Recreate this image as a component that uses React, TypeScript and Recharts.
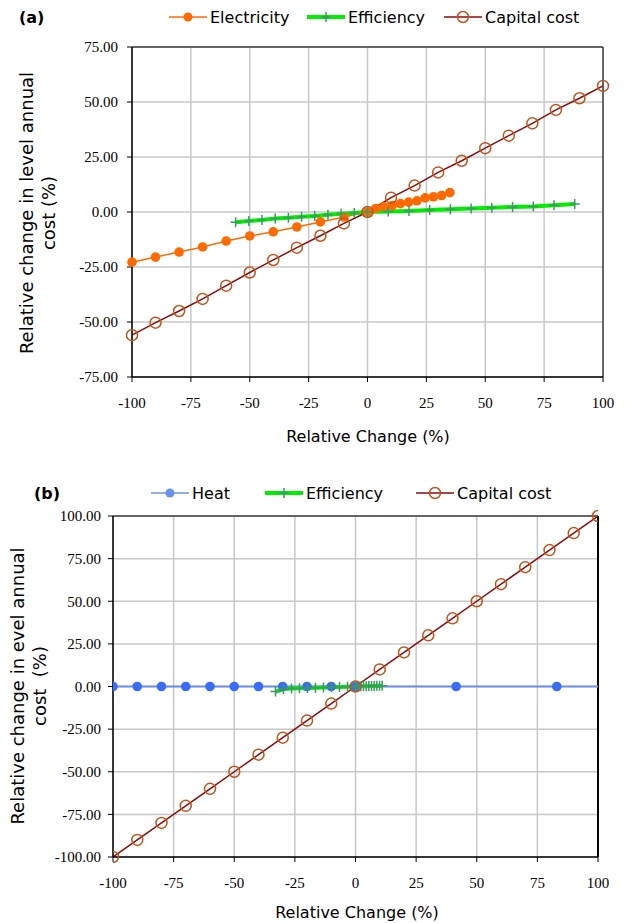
import React from 'react';
import { LineChart, Line, XAxis, YAxis, CartesianGrid, ReferenceLine } from 'recharts';

// ---- panel (a) ----
const elecX = [-100, -90, -80, -70, -60, -50, -40, -30, -20, -10, 0, 3.5, 7, 10.5, 14, 17.5, 21, 24.5, 28, 31.5, 35];
const elecY = [-22.8, -20.5, -18.2, -15.9, -13.2, -10.9, -9.0, -6.8, -4.5, -2.3, 0, 1.6, 2.4, 2.9, 3.8, 4.5, 5.1, 6.4, 6.9, 7.5, 8.8];

const effAX = [-56, -50.4, -44.8, -39.2, -33.6, -28, -22.4, -16.8, -11.2, -5.6, 0, 8.8, 17.6, 26.4, 35.2, 44, 52.8, 61.6, 70.4, 79.2, 88];
const effAY = [-4.7, -4.1, -3.6, -3.0, -2.6, -2.2, -1.8, -1.3, -0.8, -0.4, 0, 0.2, 0.5, 0.9, 1.2, 1.6, 1.9, 2.3, 2.5, 3.1, 3.6];

const capAX = [-100, -90, -80, -70, -60, -50, -40, -30, -20, -10, 0, 10, 20, 30, 40, 50, 60, 70, 80, 90, 100];
const capAY = [-56, -50.3, -45, -39.5, -33.5, -27.5, -21.8, -16.2, -10.8, -5.2, 0, 6.5, 12, 18, 23.3, 29, 34.7, 40.3, 46.4, 51.7, 57.3];

const ticksAX = [-100, -75, -50, -25, 0, 25, 50, 75, 100];
const ticksAY = [-75, -50, -25, 0, 25, 50, 75];

// ---- panel (b) ----
const heatX = [-100, -90, -80, -70, -60, -50, -40, -30, -20, -10, 0, 41.5, 83, 101];
const heatY = [0, 0, 0, 0, 0, 0, 0, 0, 0, 0, 0, 0, 0, 0];

const effBX = [-33, -29.7, -26.4, -23.1, -19.8, -16.5, -13.2, -9.9, -6.6, -3.3, 0, 1.1, 2.2, 3.3, 4.4, 5.5, 6.6, 7.7, 8.8, 9.9, 11];
const effBY = [-3.0, -1.5, -1.2, -1.0, -0.9, -0.7, -0.6, -0.4, -0.3, -0.1, 0, 0.05, 0.1, 0.15, 0.2, 0.25, 0.3, 0.35, 0.4, 0.45, 0.5];

const capBX = [-100, -90, -80, -70, -60, -50, -40, -30, -20, -10, 0, 10, 20, 30, 40, 50, 60, 70, 80, 90, 100];
const capBY = [-100, -90, -80, -70, -60, -50, -40, -30, -20, -10, 0, 10, 20, 30, 40, 50, 60, 70, 80, 90, 100];

const ticksBX = [-100, -75, -50, -25, 0, 25, 50, 75, 100];
const ticksBY = [-100, -75, -50, -25, 0, 25, 50, 75, 100];

const zip = (xs: number[], ys: number[]) => xs.map((x, i) => ({ x, y: ys[i] }));

const SANS = '"DejaVu Sans", Verdana, sans-serif';
const SERIF = '"Liberation Serif", "Times New Roman", serif';

const ORANGE = '#ff6a00';
const GREEN = '#00ee00';
const PLUS = '#3a9a60';
const DARKRED = '#8b0a0a';
const RING = '#c0541c';
const BLUE = '#3b6cf5';
const BLUE_LINE = '#6b90ee';

const PlusDot = (props: any) => {
  const { cx, cy } = props;
  if (cx == null || cy == null) return null;
  return <path d={`M${cx - 5},${cy}h10M${cx},${cy - 5}v10`} stroke={PLUS} strokeWidth={1.5} fill="none" />;
};

const RingDot = (props: any) => {
  const { cx, cy } = props;
  if (cx == null || cy == null) return null;
  return <circle cx={cx} cy={cy} r={5.5} stroke={RING} strokeWidth={1.5} fill="none" />;
};

const FillDot = (props: any) => {
  const { cx, cy, fill, index, hideLast, total } = props;
  if (cx == null || cy == null) return null;
  if (hideLast && index === total - 1) return null;
  return <circle cx={cx} cy={cy} r={4.8} fill={fill} stroke="none" />;
};

const fmt = (v: number) => v.toFixed(2);

const LegendItem = ({ x, label, kind, color }: any) => (
  <g>
    <line x1={x} x2={x + 38} y1={0} y2={0} stroke={color} strokeWidth={kind === 'plus' ? 4 : 1.5} />
    {kind === 'dot' && <circle cx={x + 19} cy={0} r={4.5} fill={color} />}
    {kind === 'plus' && <path d={`M${x + 14},0h10M${x + 19},-5v10`} stroke={PLUS} strokeWidth={1.5} />}
    {kind === 'ring' && <circle cx={x + 19} cy={0} r={5.5} stroke={RING} strokeWidth={1.5} fill="none" />}
    <text x={x + 41} y={0} dy="0.35em" fontFamily={SANS} fontSize={16} fill="#000">{label}</text>
  </g>
);

const YTitle = ({ x1, x2, cy, line1, line2 }: any) => (
  <g>
    <text x={x1} y={cy} transform={`rotate(-90, ${x1}, ${cy})`} textAnchor="middle" dy="0.35em" fontFamily={SANS} fontSize={18} fill="#000">{line1}</text>
    <text x={x2} y={cy} transform={`rotate(-90, ${x2}, ${cy})`} textAnchor="middle" dy="0.35em" fontFamily={SANS} fontSize={18} fill="#000" style={{ whiteSpace: 'pre' }}>{line2}</text>
  </g>
);

const XTitle = ({ x, y }: any) => (
  <text x={x} y={y} textAnchor="middle" dy="0.35em" fontFamily={SANS} fontSize={16} fill="#000">Relative Change (%)</text>
);

const tickStyle = { fontFamily: SERIF, fontSize: 15, fill: '#000' };

const App: React.FC = () => {
  return (
    <div style={{ position: 'absolute', left: 0, top: 0, width: 627, height: 923, background: '#fff' }}>
      {/* panel (a) */}
      <div style={{ position: 'absolute', left: 0, top: 0 }}>
        <LineChart width={627} height={460} margin={{ top: 47, right: 24, left: 0, bottom: 43 }}>
          <CartesianGrid stroke="#c8c8c8" strokeWidth={1.5} />
          <XAxis
            type="number"
            dataKey="x"
            domain={[-100, 100]}
            ticks={ticksAX}
            height={40}
            tick={tickStyle}
            tickSize={5}
            tickMargin={15}
            axisLine={{ stroke: '#000', strokeWidth: 1.5 }}
            tickLine={{ stroke: '#000' }}
            label={{ content: () => <XTitle x={368} y={436} /> }}
          />
          <YAxis
            type="number"
            dataKey="y"
            domain={[-75, 75]}
            ticks={ticksAY}
            width={132}
            tick={tickStyle}
            tickFormatter={fmt}
            tickSize={5}
            tickMargin={9}
            axisLine={{ stroke: '#000', strokeWidth: 1.5 }}
            tickLine={{ stroke: '#000' }}
            label={{ content: () => <YTitle x1={27} x2={49} cy={213} line1="Relative change in level annual" line2="cost (%)" /> }}
          />
          <ReferenceLine y={75} stroke="#404040" strokeWidth={1.5} />
          <ReferenceLine x={100} stroke="#404040" strokeWidth={1.5} />
          <Line data={zip(elecX, elecY)} dataKey="y" stroke={ORANGE} strokeWidth={1.5} dot={<FillDot fill={ORANGE} />} isAnimationActive={false} />
          <Line data={zip(effAX, effAY)} dataKey="y" stroke={GREEN} strokeWidth={4} dot={<PlusDot />} isAnimationActive={false} />
          <Line data={zip(capAX, capAY)} dataKey="y" stroke={DARKRED} strokeWidth={1.5} dot={<RingDot />} isAnimationActive={false} />
        </LineChart>
      </div>
      <svg width={627} height={34} style={{ position: 'absolute', left: 0, top: 0 }}>
        <g transform="translate(0,17)">
          <text x={19} y={0} dy="0.35em" fontFamily={SANS} fontSize={16} fontWeight="bold">(a)</text>
          <LegendItem x={169} label="Electricity" kind="dot" color={ORANGE} />
          <LegendItem x={307} label="Efficiency" kind="plus" color={GREEN} />
          <LegendItem x={444} label="Capital cost" kind="ring" color={DARKRED} />
        </g>
      </svg>

      {/* panel (b) */}
      <div style={{ position: 'absolute', left: 0, top: 470 }}>
        <LineChart width={627} height={453} margin={{ top: 46, right: 29, left: 0, bottom: 26 }}>
          <CartesianGrid stroke="#c8c8c8" strokeWidth={1.5} />
          <XAxis
            type="number"
            dataKey="x"
            domain={[-100, 100]}
            ticks={ticksBX}
            height={40}
            tick={tickStyle}
            tickSize={5}
            tickMargin={15}
            axisLine={{ stroke: '#000', strokeWidth: 1.5 }}
            tickLine={{ stroke: '#000' }}
            allowDataOverflow
            label={{ content: () => <XTitle x={357} y={442} /> }}
          />
          <YAxis
            type="number"
            dataKey="y"
            domain={[-100, 100]}
            ticks={ticksBY}
            width={113}
            tick={tickStyle}
            tickFormatter={fmt}
            tickSize={5}
            tickMargin={7}
            axisLine={{ stroke: '#000', strokeWidth: 1.5 }}
            tickLine={{ stroke: '#000' }}
            label={{ content: () => <YTitle x1={18} x2={40} cy={216} line1="Relative change in evel annual" line2="cost  (%)" /> }}
          />
          <ReferenceLine y={100} stroke="#404040" strokeWidth={1.5} />
          <ReferenceLine x={100} stroke="#000" strokeWidth={2} />
          <Line data={zip(heatX, heatY)} dataKey="y" stroke={BLUE_LINE} strokeWidth={2} dot={<FillDot fill={BLUE} hideLast total={heatX.length} />} isAnimationActive={false} />
          <Line data={zip(effBX, effBY)} dataKey="y" stroke={GREEN} strokeWidth={4} dot={<PlusDot />} isAnimationActive={false} />
          <Line data={zip(capBX, capBY)} dataKey="y" stroke={DARKRED} strokeWidth={1.5} dot={<RingDot />} isAnimationActive={false} />
        </LineChart>
      </div>
      <svg width={627} height={40} style={{ position: 'absolute', left: 0, top: 473 }}>
        <g transform="translate(0,20)">
          <text x={34} y={0} dy="0.35em" fontFamily={SANS} fontSize={16} fontWeight="bold">(b)</text>
          <LegendItem x={151} label="Heat" kind="dot" color={BLUE_LINE} />
          <LegendItem x={265} label="Efficiency" kind="plus" color={GREEN} />
          <LegendItem x={416} label="Capital cost" kind="ring" color={DARKRED} />
        </g>
      </svg>
    </div>
  );
};

export default App;
